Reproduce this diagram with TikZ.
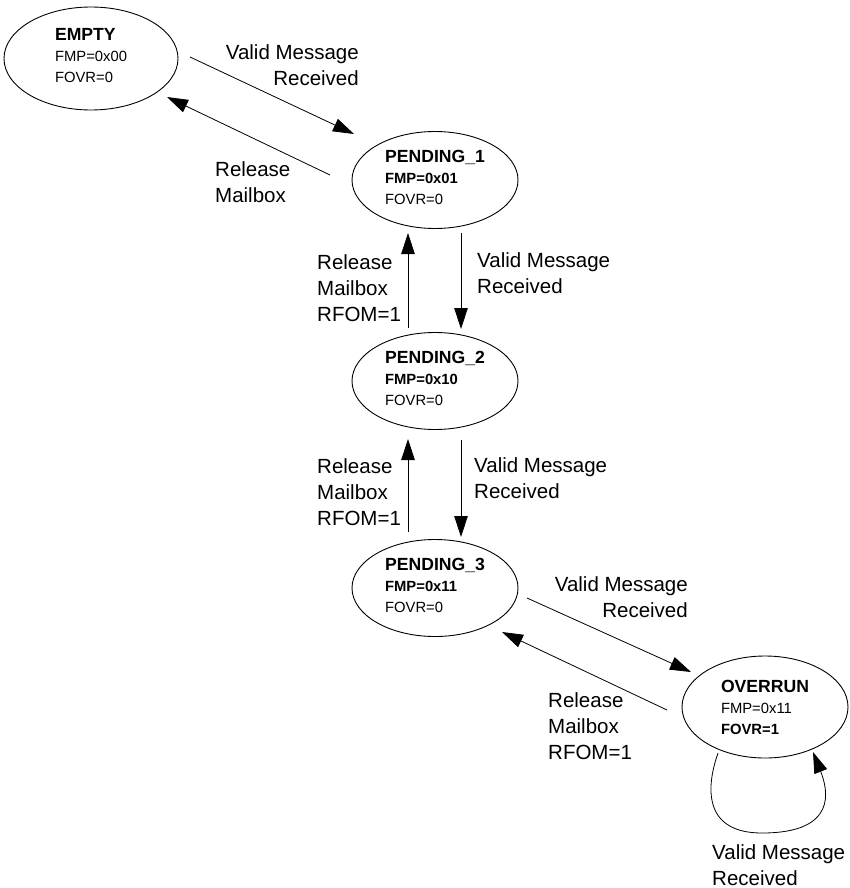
\documentclass[tikz,border=0pt]{standalone}
\usepackage{fontspec}
\setmainfont{Liberation Sans}
\usetikzlibrary{shapes.geometric,arrows.meta}
% title line of a state, and a bottom strut that lifts the text block a little
\newcommand{\sttitle}[1]{{\fontsize{17.6}{21}\selectfont\bfseries #1}}
\newcommand{\stlift}{\rule[-6pt]{0pt}{6pt}}
\begin{document}
\begin{tikzpicture}[x=1pt,y=-1pt,
  state/.style={draw,ellipse,line width=0.9pt,minimum width=166pt,minimum height=97pt,
    inner sep=0pt,align=left,font=\fontsize{14.8}{21}\selectfont},
  arr/.style={line width=0.8pt,-{Triangle[length=21pt,width=13.5pt]}},
  lbl/.style={font=\fontsize{20.5}{26.2}\selectfont,inner sep=0pt}]
\useasboundingbox (0,0) rectangle (849,888);

% states
\node[state,minimum width=174pt,minimum height=103pt] (empty) at (91,58.5)
  {\sttitle{EMPTY}\\FMP=0x00\\FOVR=0\stlift};
\node[state] (p1) at (435,180)
  {\sttitle{PENDING\_1}\\\textbf{FMP=0x01}\\FOVR=0\stlift};
\node[state] (p2) at (435,381)
  {\sttitle{PENDING\_2}\\\textbf{FMP=0x10}\\FOVR=0\stlift};
\node[state] (p3) at (435,588)
  {\sttitle{PENDING\_3}\\\textbf{FMP=0x11}\\FOVR=0\stlift};
\node[state,minimum height=102pt] (ovr) at (765,707)
  {\sttitle{OVERRUN}\\FMP=0x11\\\textbf{FOVR=1}};

% connector end points
\coordinate (e-out) at (190,57);   \coordinate (p1-in) at (354,134);
\coordinate (p1-out) at (330,175); \coordinate (e-in) at (167,97);
\coordinate (p1-dn) at (461,233);  \coordinate (p2-in) at (461,329);
\coordinate (p2-up) at (408,328);  \coordinate (p1-in2) at (408,233);
\coordinate (p2-dn) at (461,440);  \coordinate (p3-in) at (461,537);
\coordinate (p3-up) at (408,532);  \coordinate (p2-in2) at (408,439);
\coordinate (p3-out) at (527,598); \coordinate (o-in) at (691,672);
\coordinate (o-out) at (667,710);  \coordinate (p3-in2) at (502,632);
\coordinate (o-l) at (718,753);    \coordinate (o-r) at (813,752);

% transitions
\draw[arr] (e-out) -- (p1-in);
\draw[arr] (p1-out) -- (e-in);
\draw[arr] (p1-dn) -- (p2-in);
\draw[arr] (p2-up) -- (p1-in2);
\draw[arr] (p2-dn) -- (p3-in);
\draw[arr] (p3-up) -- (p2-in2);
\draw[arr] (p3-out) -- (o-in);
\draw[arr] (o-out) -- (p3-in2);
\draw[arr] (o-l) .. controls (705,790) and (705,833) .. (762,833)
  .. controls (838,833) and (828,790) .. (o-r);

% transition labels
\node[lbl,align=right,anchor=north east] (t1) at (359,44) {Valid Message\\Received};
\node[lbl,align=left,anchor=north west] (t2) at (215,161) {Release\\Mailbox};
\node[lbl,align=left,anchor=north west] (t3) at (477,252) {Valid Message\\Received};
\node[lbl,align=left,anchor=north west] (t4) at (317,254) {Release\\Mailbox\\RFOM=1};
\node[lbl,align=left,anchor=north west] (t5) at (474,457) {Valid Message\\Received};
\node[lbl,align=left,anchor=north west] (t6) at (317,458) {Release\\Mailbox\\RFOM=1};
\node[lbl,align=right,anchor=north east] (t7) at (688,576) {Valid Message\\Received};
\node[lbl,align=left,anchor=north west] (t8) at (548,692) {Release\\Mailbox\\RFOM=1};
\node[lbl,align=left,anchor=north west] (t9) at (712,844) {Valid Message\\Received};
\end{tikzpicture}
\end{document}
